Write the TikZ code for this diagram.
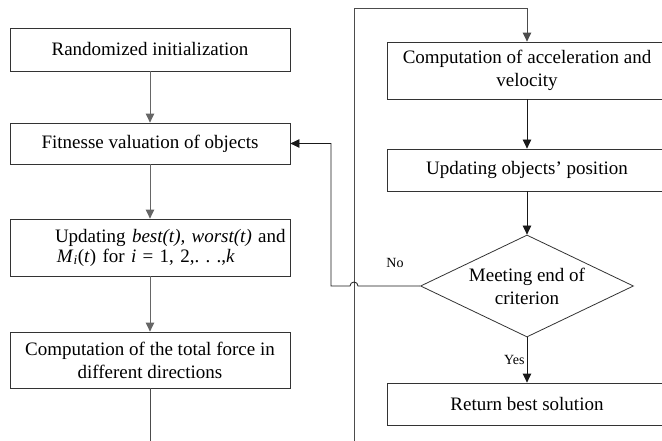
\documentclass[tikz,border=0pt]{standalone}
\usepackage{fontspec}
\setmainfont{Liberation Serif}
\usetikzlibrary{arrows.meta,shapes.geometric}
\begin{document}
\begin{tikzpicture}[x=1pt,y=1pt,
  mainfont/.style={font=\fontsize{19}{23}\selectfont},
  box/.style={draw=black!80, line width=0.8pt, minimum width=280pt, inner sep=0pt, mainfont, align=center},
  tip/.style={-{Triangle[length=9pt,width=8.5pt]}},
  gline/.style={draw=black!60, line width=0.9pt, tip},
  bline/.style={draw=black!90, line width=0.8pt, tip},
  lbl/.style={font=\fontsize{14}{16}\selectfont, inner sep=2pt}
]
\clip (0,0) rectangle (662,440);
\node[box, minimum height=43pt] (b1) at (150,390.5) {Randomized initialization};
\node[box, minimum height=41pt] (b2) at (150,296.5) {Fitnesse valuation of objects};
\node[box, minimum height=57pt, text width=278pt, align=left] (b3) at (150,192.5)
  {\hspace*{44pt}Updating \textit{best(t), worst(t)} and\\[-3pt]\hspace*{46pt}\textit{M}\textsubscript{\textit{i}}(\textit{t}) for \textit{i} = 1, 2,.\ .\ .,\textit{k}};
\node[box, minimum height=56pt] (b4) at (150,80) {Computation of the total force in\\different directions};
\node[box, minimum height=57pt] (b5) at (527,369.5) {Computation of acceleration and\\velocity};
\node[box, minimum height=42pt] (b6) at (527,270) {Updating objects' position};
\node[diamond, draw=black!80, line width=0.8pt, minimum width=213pt, minimum height=102pt, inner sep=0pt, aspect=2, mainfont, align=center] (d) at (527,154) {Meeting end of\\criterion};
\node[box, minimum height=42pt] (b7) at (527,36) {Return best solution};
\node[lbl] (no) at (395,177) {No};

\draw[gline] (b1) -- (b2);
\draw[gline] (b2) -- (b3);
\draw[gline] (b3) -- (b4);
\draw[gline, draw=black!70] (b4.south) -- (150,-20) -| (354,432) -| (b5.north);
\draw[bline] (b5) -- (b6);
\draw[bline] (b6) -- (d);
\draw[bline] (d) -- node[lbl, left] (yes) {Yes} (b7);
\draw[bline] (d.west) -- (358,154) arc[start angle=0, end angle=180, radius=4] -- (331,154) |- (b2.east);
\end{tikzpicture}
\end{document}
